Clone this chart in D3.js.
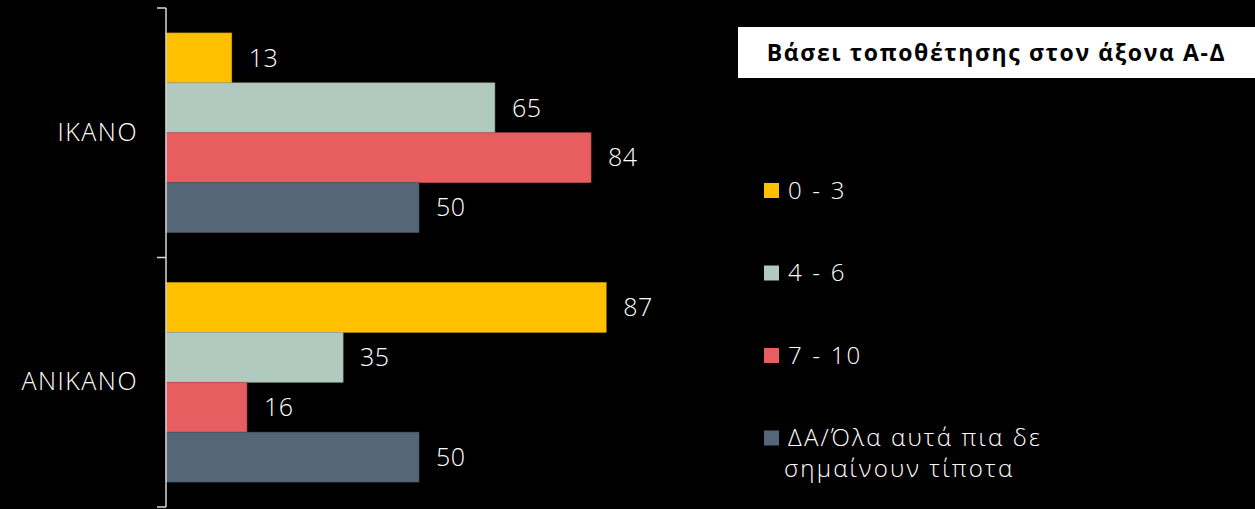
<!DOCTYPE html>
<html>
<head>
<meta charset="utf-8">
<script src="https://cdn.jsdelivr.net/npm/d3@7"></script>
<style>
  body { margin: 0; background: #000; }
  text { font-family: "Open Sans", "Noto Sans", sans-serif; font-weight: 300; }
</style>
</head>
<body>
<div id="chart"></div>
<script>
// Data
const categories = ["ΙΚΑΝΟ", "ΑΝΙΚΑΝΟ"];
const series = ["0 - 3", "4 - 6", "7 - 10", "ΔΑ/Όλα αυτά πια δε σημαίνουν τίποτα"];
const values = [
  [13, 65, 84, 50],   // ΙΚΑΝΟ
  [87, 35, 16, 50]    // ΑΝΙΚΑΝΟ
];
const colors = ["#FFC000", "#B2C9BF", "#E85D60", "#566679"];
const title = "Βάσει τοποθέτησης στον άξονα Α-Δ";

const W = 1255, H = 509;

const svg = d3.select("#chart")
  .append("svg")
  .attr("width", W)
  .attr("height", H)
  .style("display", "block")
  .style("background", "#000");

// Scales
const x = d3.scaleLinear().domain([0, 100]).range([166, 672]);
const y0 = d3.scaleBand().domain(categories).range([8, 507]).padding(0);
const y1 = d3.scaleBand().domain(series).range([0, y0.bandwidth()])
  .paddingInner(0).paddingOuter(0.5);
const color = d3.scaleOrdinal().domain(series).range(colors);

// Bars
const groups = svg.selectAll("g.group")
  .data(categories)
  .enter()
  .append("g")
  .attr("class", "group")
  .attr("transform", d => `translate(0, ${y0(d)})`);

groups.selectAll("rect")
  .data((d, i) => values[i].map((v, j) => ({ s: series[j], v: v })))
  .enter()
  .append("rect")
  .attr("x", x(0))
  .attr("y", d => y1(d.s))
  .attr("width", d => x(d.v) - x(0))
  .attr("height", y1.bandwidth())
  .attr("fill", d => color(d.s))
  .attr("stroke", d => d3.color(color(d.s)).darker(0.6))
  .attr("stroke-width", 0.6);

// Value labels
groups.selectAll("text.value")
  .data((d, i) => values[i].map((v, j) => ({ s: series[j], v: v })))
  .enter()
  .append("text")
  .attr("class", "value")
  .attr("x", d => x(d.v) + 17)
  .attr("y", d => y1(d.s) + y1.bandwidth() / 2)
  .attr("dy", "0.35em")
  .attr("fill", "#fff")
  .style("font-size", "25px")
  .style("letter-spacing", "0.5px")
  .text(d => d.v);

// Axis: category labels
const yAxis = svg.append("g")
  .attr("transform", `translate(${x(0)}, 0)`)
  .call(d3.axisLeft(y0).tickSize(0).tickPadding(28));
yAxis.select(".domain").remove();
yAxis.selectAll("text")
  .attr("fill", "#fff")
  .style("font-size", "25px")
  .style("font-weight", "300")
  .style("font-family", "'Open Sans', 'Noto Sans', sans-serif")
  .style("letter-spacing", "1.5px");

// Axis line with ticks at group boundaries
const bounds = categories.map(c => y0(c)).concat([y0.range()[1]]);
svg.append("line")
  .attr("x1", x(0)).attr("x2", x(0))
  .attr("y1", bounds[0]).attr("y2", bounds[bounds.length - 1])
  .attr("stroke", "#D9D9D9")
  .attr("stroke-width", 1.5);
svg.selectAll("line.tick")
  .data(bounds)
  .enter()
  .append("line")
  .attr("class", "tick")
  .attr("x1", x(0) - 9).attr("x2", x(0))
  .attr("y1", d => d).attr("y2", d => d)
  .attr("stroke", "#D9D9D9")
  .attr("stroke-width", 1.5);

// Title box
svg.append("rect")
  .attr("x", 738).attr("y", 27)
  .attr("width", W - 738).attr("height", 51)
  .attr("fill", "#fff");
svg.append("text")
  .attr("x", (738 + W) / 2)
  .attr("y", 52.5)
  .attr("dy", "0.35em")
  .attr("text-anchor", "middle")
  .attr("fill", "#000")
  .style("font-size", "23px")
  .style("font-weight", "bold")
  .style("letter-spacing", "1.6px")
  .text(title);

// Legend
const legend = svg.selectAll("g.legend")
  .data(series)
  .enter()
  .append("g")
  .attr("class", "legend")
  .attr("transform", (d, i) => `translate(764, ${190.5 + i * 82.5})`);

legend.append("rect")
  .attr("x", 0).attr("y", -7.5)
  .attr("width", 15).attr("height", 15)
  .attr("fill", d => color(d));

const legendLines = d => d.length > 20 ? ["ΔΑ/Όλα αυτά πια δε", "σημαίνουν τίποτα"] : [d];
legend.append("text")
  .attr("fill", "#fff")
  .style("font-size", "24px")
  .style("letter-spacing", "2.2px")
  .selectAll("tspan")
  .data(d => legendLines(d))
  .enter()
  .append("tspan")
  .attr("x", (d, i) => i === 0 ? 24 : 20)
  .attr("y", (d, i) => i * 31)
  .attr("dy", "0.35em")
  .text(d => d);
</script>
</body>
</html>
